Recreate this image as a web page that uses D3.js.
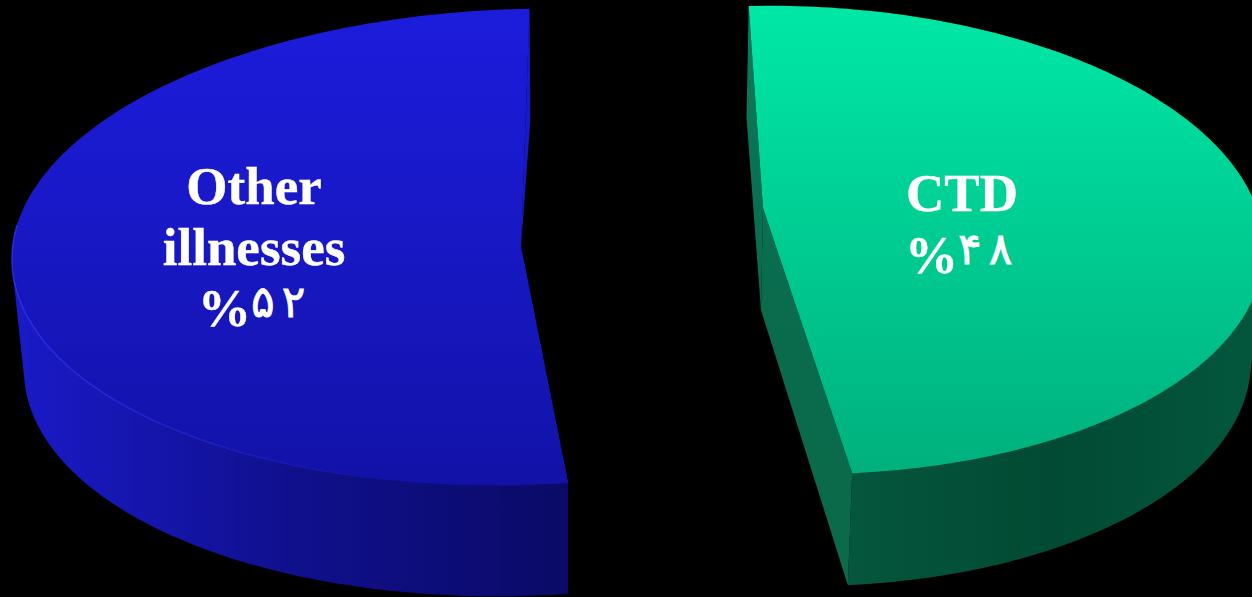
<!DOCTYPE html>
<html>
<head>
<meta charset="utf-8">
<script src="https://cdn.jsdelivr.net/npm/d3@7/dist/d3.min.js"></script>
<style>
  html, body { margin: 0; padding: 0; background: #000; overflow: hidden; }
  svg { display: block; }
</style>
</head>
<body>
<script>
// Shares of cases by diagnosis
const categories = ["CTD", "Other illnesses"];
const shares = [48, 52];
const labelLines = [["CTD"], ["Other", "illnesses"]];

const WIDTH = 1252, HEIGHT = 597;
const rad = d => d * Math.PI / 180;

// Each exploded slice has its own perspective: a tilted ellipse for the top
// face and a slightly smaller one for the base, plus the wedge tip.
const views = [
  {
    rotation: rad(-5), stretch: 1.027,
    apex: [763, 208], apexLow: [761, 310],
    top: { cx: 790, cy: 240, rx: 474, ry: 234, tilt: 9 },
    base: { cx: 787, cy: 352, rx: 464, ry: 234, tilt: 9 },
    face: ["#00e8a6", "#00cc92", "#00b07d"],
    wall: ["#04563c", "#024a33", "#03563c"],
    cut: ["#0a7a5c", "#0a6b4d", "#0a6a49"],
    label: { x: 962, y: 211, step: 62, shareX: 905 }
  },
  {
    rotation: rad(174.7), stretch: 0.995,
    apex: [521, 247], apexLow: [521, 247],
    top: { cx: 521, cy: 247, rx: 509, ry: 238, tilt: -12 },
    base: { cx: 522, cy: 358, rx: 498, ry: 238, tilt: -12 },
    face: ["#1c1cdc", "#1818c4", "#1212a8"],
    wall: ["#1a1ac8", "#10108e", "#0a0a66"],
    cut: ["#1a1ad0", "#1818b8", "#1616a8"],
    label: { x: 254, y: 204, step: 61, shareX: 198 }
  }
];

// Western digits to the Persian forms used on the percentage labels
const persianDigits = n => String(n).replace(/\d/g, c => "۰۱۲۳۴۵۶۷۸۹"[+c]);

const svg = d3.select("body").append("svg")
  .attr("width", WIDTH).attr("height", HEIGHT)
  .style("background", "#000");
const defs = svg.append("defs");

function gradient(id, stops, horizontal, from, to) {
  const g = defs.append("linearGradient").attr("id", id)
    .attr("gradientUnits", "userSpaceOnUse")
    .attr("x1", horizontal ? from : 0).attr("x2", horizontal ? to : 0)
    .attr("y1", horizontal ? 0 : from).attr("y2", horizontal ? 0 : to);
  stops.forEach((c, i) => g.append("stop")
    .attr("offset", i / (stops.length - 1)).attr("stop-color", c));
  return g;
}

const pie = d3.pie().sort(null).value(d => d);
const arcs = pie(shares);
const line = d3.line();

// Point on an ellipse at parameter t (clockwise from the top)
const onRim = (e, t) => [
  e.cx + e.rx * Math.sin(t),
  e.cy - e.ry * Math.cos(t) + e.tilt * Math.sin(t)
];

arcs.forEach((arc, i) => {
  const v = views[i];
  const toRim = d3.scaleLinear()
    .domain([arc.startAngle, arc.endAngle])
    .range([v.rotation, v.rotation + v.stretch * (arc.endAngle - arc.startAngle)]);
  const ts = d3.range(0, 181).map(k => toRim(arc.startAngle + (arc.endAngle - arc.startAngle) * k / 180));
  const t0 = ts[0], t1 = ts[ts.length - 1];
  const g = svg.append("g").attr("class", "slice");

  const xs = ts.map(t => onRim(v.top, t)[0]);
  gradient("face" + i, v.face, false, d3.min(ts.map(t => onRim(v.top, t)[1])), d3.max(ts.map(t => onRim(v.top, t)[1])));
  gradient("wall" + i, v.wall, true, i === 1 ? d3.min(xs) : onRim(v.top, t1)[0], i === 1 ? onRim(v.top, t0)[0] : WIDTH);
  gradient("cut" + i, v.cut, false, d3.min([onRim(v.top, t0)[1], onRim(v.top, t1)[1]]), d3.max([onRim(v.base, t0)[1], onRim(v.base, t1)[1]]));

  // Cut sides of the wedge, behind the top face
  g.append("path")
    .attr("d", line([onRim(v.top, t0), onRim(v.base, t0), v.apexLow, v.apex]) + "Z")
    .attr("fill", `url(#cut${i})`);
  g.append("path")
    .attr("d", line([onRim(v.top, t1), onRim(v.base, t1), v.apexLow, v.apex]) + "Z")
    .attr("fill", `url(#cut${i})`);

  // Outer wall: the hull of both rims joins them with a straight silhouette
  const front = ts.filter(t => Math.cos(t) < 0.3);
  const hull = d3.polygonHull(front.map(t => onRim(v.top, t)).concat(front.map(t => onRim(v.base, t))));
  g.append("path")
    .attr("d", line(hull) + "Z")
    .attr("fill", `url(#wall${i})`);

  // Top face
  g.append("path")
    .attr("d", line([v.apex].concat(ts.map(t => onRim(v.top, t)))) + "Z")
    .attr("fill", `url(#face${i})`);

  // Soft highlight where the blue face meets its wall on the lit side
  if (i === 1) {
    const lit = ts.filter(t => Math.sin(t) < -0.3 && Math.cos(t) < 0.15);
    const fade = gradient("lit", ["#3232ee", "#3232ee"], true, 20, 420);
    fade.selectAll("stop").attr("stop-opacity", (d, k) => k ? 0 : 0.75);
    g.append("path")
      .attr("d", line(lit.map(t => onRim(v.top, t))))
      .attr("fill", "none").attr("stroke", "url(#lit)")
      .attr("stroke-width", 1.5);
  }

  // Category name, then the percentage with its smaller raised digits
  const text = g.append("g")
    .attr("font-family", "'Liberation Serif', 'Times New Roman', serif")
    .attr("font-weight", "bold")
    .attr("font-size", 53)
    .attr("fill", "#fff")
    .attr("stroke", "#fff")
    .attr("stroke-width", 0.4);
  text.selectAll("text.name").data(labelLines[i]).join("text")
    .attr("class", "name")
    .attr("text-anchor", "middle")
    .attr("x", v.label.x)
    .attr("y", (d, k) => v.label.y + k * v.label.step)
    .text(d => d);
  const pct = text.append("text")
    .attr("class", "share")
    .attr("direction", "ltr")
    .attr("x", v.label.shareX)
    .attr("y", v.label.y + labelLines[i].length * v.label.step);
  pct.append("tspan").text("%");
  pct.selectAll("tspan.digit").data(Array.from(persianDigits(arc.value))).join("tspan")
    .attr("class", "digit")
    .attr("dx", (d, k) => k ? 7 : 0)
    .attr("dy", (d, k) => k ? 0 : -9)
    .attr("font-family", "'DejaVu Sans', sans-serif")
    .attr("font-weight", "normal")
    .attr("font-size", 44)
    .attr("stroke-width", 0.8)
    .text(d => d);
});
</script>
</body>
</html>
